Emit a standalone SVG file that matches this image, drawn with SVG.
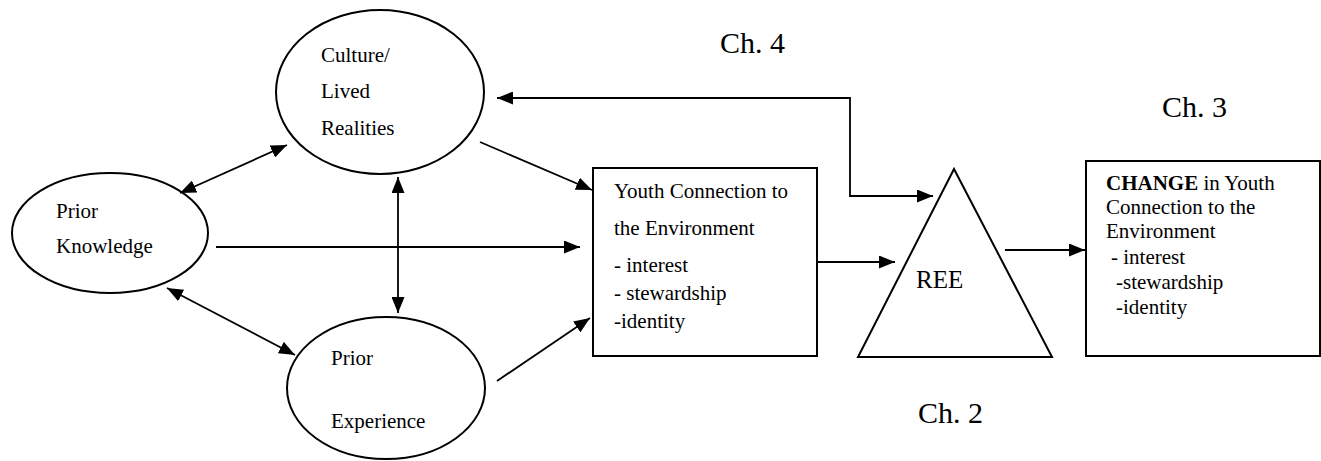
<svg xmlns="http://www.w3.org/2000/svg" width="1321" height="461" viewBox="0 0 1321 461">
<style>
text{font-family:"Liberation Serif","Times New Roman",serif;fill:#000}
.t{font-size:21px}
.ree{font-size:25px}
.ch{font-size:30px}
.shape{fill:none;stroke:#000;stroke-width:2}
.c{fill:none;stroke:#000;stroke-width:1.8}
</style>
<defs>
<marker id="ah" markerUnits="userSpaceOnUse" markerWidth="16" markerHeight="13" refX="16" refY="6.5" orient="auto-start-reverse">
<path d="M0,0 L16,6.5 L0,13 z" fill="#000"/>
</marker>
</defs>
<rect width="1321" height="461" fill="#fff"/>
<g id="connectors">
<line class="c" x1="480" y1="142" x2="592" y2="190" marker-end="url(#ah)"/>
<line class="c" x1="216" y1="247" x2="580" y2="247" marker-end="url(#ah)"/>
<line class="c" x1="497" y1="381" x2="590" y2="318" marker-end="url(#ah)"/>
<line class="c" x1="180" y1="193" x2="287" y2="145" marker-start="url(#ah)" marker-end="url(#ah)"/>
<line class="c" x1="398" y1="177" x2="398" y2="313" marker-start="url(#ah)" marker-end="url(#ah)"/>
<line class="c" x1="167" y1="288" x2="295" y2="355" marker-start="url(#ah)" marker-end="url(#ah)"/>
<line class="c" x1="817" y1="262" x2="895" y2="262" marker-end="url(#ah)"/>
<line class="c" x1="1005" y1="250" x2="1085" y2="250" marker-end="url(#ah)"/>
<polyline class="c" points="497,98 850,98 850,196 933,196" marker-start="url(#ah)" marker-end="url(#ah)"/>
</g>
<g id="culture">
<ellipse class="shape" cx="380" cy="92" rx="104" ry="82"/>
<text class="t" x="321" y="62">Culture/</text>
<text class="t" x="321" y="98">Lived</text>
<text class="t" x="321" y="135">Realities</text>
</g>
<g id="prior-knowledge">
<ellipse class="shape" cx="110" cy="233" rx="98" ry="60"/>
<text class="t" x="56" y="218">Prior</text>
<text class="t" x="56" y="253">Knowledge</text>
</g>
<g id="prior-experience">
<ellipse class="shape" cx="386" cy="388" rx="99" ry="71"/>
<text class="t" x="331" y="365">Prior</text>
<text class="t" x="331" y="428">Experience</text>
</g>
<g id="youth-connection">
<rect class="shape" x="593" y="168" width="224" height="188"/>
<text class="t" x="614" y="198">Youth Connection to</text>
<text class="t" x="614" y="235">the Environment</text>
<text class="t" x="614" y="272">- interest</text>
<text class="t" x="614" y="300">- stewardship</text>
<text class="t" x="614" y="328">-identity</text>
</g>
<g id="ree">
<polygon class="shape" points="954,169 858,357 1052,357"/>
<text class="ree" x="916" y="288">REE</text>
</g>
<g id="change">
<rect class="shape" x="1086" y="161" width="234" height="195"/>
<text class="t" x="1106" y="190"><tspan font-weight="bold">CHANGE</tspan> in Youth</text>
<text class="t" x="1106" y="214">Connection to the</text>
<text class="t" x="1106" y="238">Environment</text>
<text class="t" x="1111" y="264">- interest</text>
<text class="t" x="1116" y="289">-stewardship</text>
<text class="t" x="1116" y="314">-identity</text>
</g>
<g id="labels">
<text class="ch" x="720" y="53">Ch. 4</text>
<text class="ch" x="1162" y="117">Ch. 3</text>
<text class="ch" x="918" y="423">Ch. 2</text>
</g>
</svg>
